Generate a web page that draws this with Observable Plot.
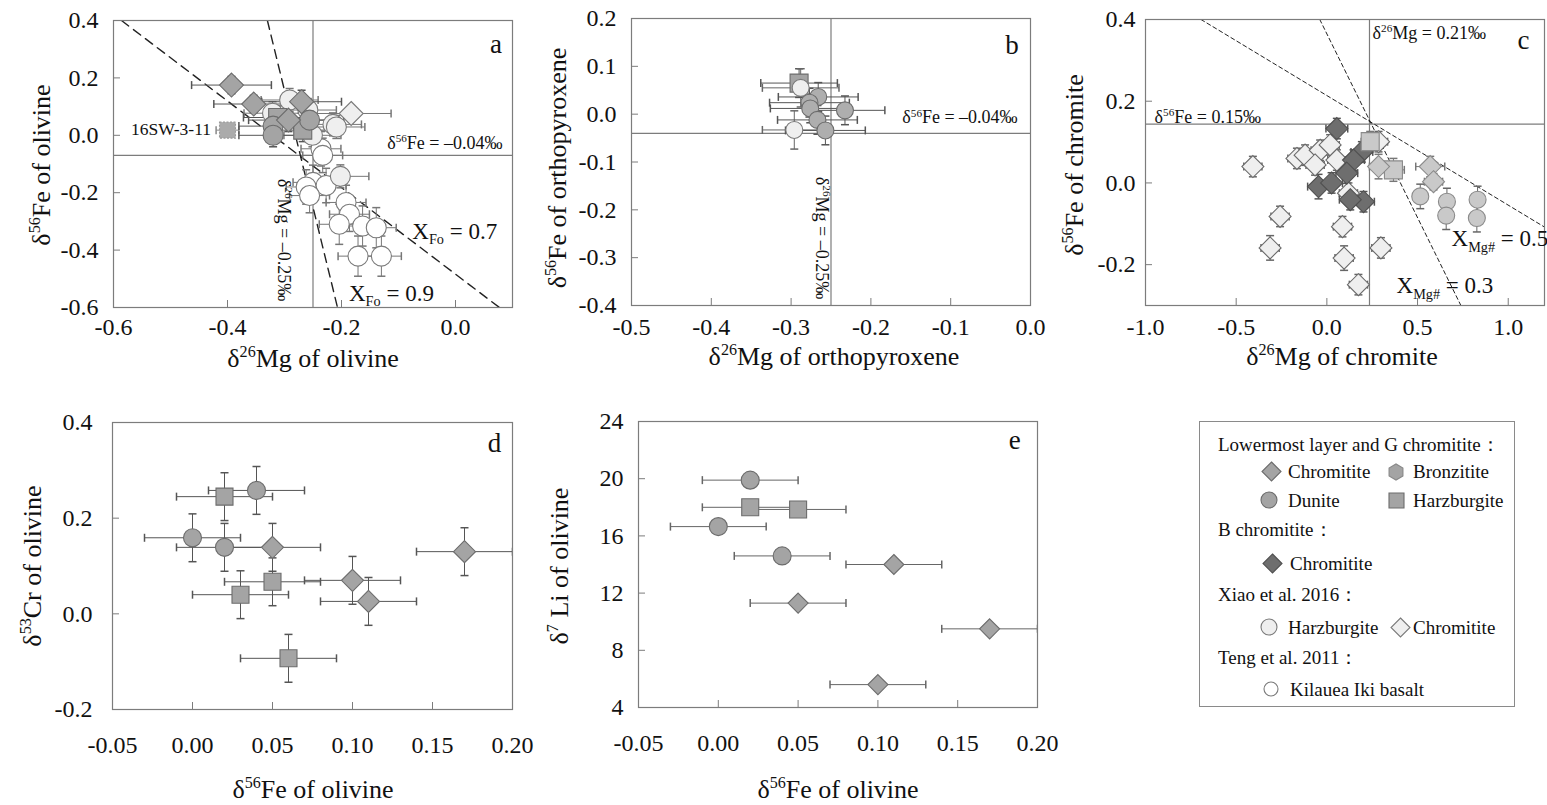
<!DOCTYPE html>
<html><head><meta charset="utf-8">
<script src="https://cdn.jsdelivr.net/npm/d3@7"></script>
<script src="https://cdn.jsdelivr.net/npm/@observablehq/plot@0.6"></script>
<style>
body{margin:0;background:#fff;}
#root{position:relative;width:1547px;height:805px;overflow:hidden;font-family:"Liberation Serif","Times New Roman",serif;color:#111;background:#fff;}
.t{position:absolute;white-space:nowrap;line-height:1;}
.t sup{font-size:0.62em;position:relative;top:-0.6em;vertical-align:baseline;line-height:0;}
.t sub{font-size:0.62em;position:relative;top:0.38em;vertical-align:baseline;line-height:0;}
#legend{position:absolute;left:1199px;top:421px;width:316px;height:286px;border:1px solid #8a8a8a;box-sizing:border-box;}
</style></head>
<body><div id="root"><div id="legend"></div></div>
<script>
// ---------------- DATA: [x, y, xErr, yErr] ----------------
// Panel a: δ26Mg vs δ56Fe of olivine
const aLowChromitite = [[-0.393,0.175,0.07,0.03],[-0.354,0.109,0.07,0.03],[-0.270,0.117,0.07,0.04],[-0.293,0.053,0.07,0.04]];
const aLowDunite = [[-0.256,0.053,0.06,0.04],[-0.320,0.032,0.06,0.04],[-0.320,0.000,0.06,0.04]];
const aLowHarzburgite = [[-0.312,0.062,0.06,0.04],[-0.268,0.018,0.06,0.04]];
const aSample16SW = [[-0.400,0.018,0.02,0]];
const aXiaoHarzburgite = [[-0.291,0.123,0.05,0.04],[-0.259,0.088,0.05,0.04],[-0.321,0.077,0.05,0.04],[-0.215,0.038,0.05,0.04],[-0.209,0.029,0.05,0.04],[-0.251,0.000,0.05,0.04],[-0.202,-0.143,0.05,0.04]];
const aXiaoChromitite = [[-0.183,0.076,0.07,0.02]];
const aKilauea = [[-0.236,-0.047,0.035,0.06],[-0.233,-0.070,0.035,0.06],[-0.250,-0.164,0.035,0.06],[-0.262,-0.180,0.035,0.06],[-0.227,-0.175,0.035,0.06],[-0.256,-0.210,0.035,0.06],[-0.192,-0.234,0.035,0.06],[-0.186,-0.275,0.035,0.06],[-0.204,-0.310,0.035,0.07],[-0.163,-0.316,0.035,0.07],[-0.139,-0.322,0.035,0.07],[-0.171,-0.421,0.035,0.07],[-0.130,-0.421,0.035,0.07]];
const aXFo07 = [[-0.586,0.4],[0.077,-0.6]];
const aXFo09 = [[-0.330,0.4],[-0.207,-0.6]];
const aRefMg = -0.25, aRefFe = -0.07;

// Panel b: orthopyroxene
const bLowHarzburgite = [[-0.290,0.065,0.048,0.03]];
const bXiaoHarzburgite = [[-0.288,0.055,0.048,0.04],[-0.296,-0.033,0.040,0.04]];
const bLowDunite = [[-0.266,0.036,0.05,0.03],[-0.277,0.024,0.05,0.03],[-0.276,0.012,0.05,0.03],[-0.2325,0.008,0.05,0.03],[-0.267,-0.012,0.05,0.03],[-0.257,-0.034,0.05,0.03]];
const bRefMg = -0.25, bRefFe = -0.04;

// Panel c: chromite
const cXiaoChromitite = [[-0.408,0.040,0.05,0.025],[-0.258,-0.082,0.05,0.025],[-0.313,-0.159,0.05,0.03],[-0.165,0.060,0.05,0.025],[-0.120,0.068,0.05,0.025],[-0.037,0.080,0.05,0.025],[-0.065,0.044,0.05,0.025],[0.018,0.093,0.05,0.025],[0.055,0.056,0.05,0.025],[0.119,-0.025,0.05,0.025],[0.086,-0.107,0.05,0.025],[0.095,-0.184,0.05,0.03],[0.174,-0.249,0.05,0.025],[0.298,-0.159,0.05,0.025],[0.285,0.101,0.05,0.025]];
const cBChromitite = [[0.055,0.133,0.06,0.025],[0.193,0.076,0.06,0.025],[0.147,0.056,0.06,0.025],[0.110,0.024,0.06,0.025],[-0.046,-0.009,0.06,0.03],[0.026,0.000,0.06,0.025],[0.202,-0.046,0.06,0.025],[0.129,-0.041,0.06,0.025]];
const cLowChromitite = [[0.285,0.040,0.05,0.03],[0.570,0.040,0.08,0.025],[0.588,0.003,0.05,0.02]];
const cLowHarzburgite = [[0.239,0.101,0.05,0.025],[0.367,0.032,0.06,0.028]];
const cLowDunite = [[0.515,-0.033,0,0.03],[0.662,-0.046,0,0.033],[0.658,-0.080,0,0.034],[0.831,-0.041,0,0.033],[0.827,-0.086,0,0.034]];
const cXMg05 = [[-0.694,0.4],[1.2,-0.108]];
const cXMg03 = [[-0.039,0.4],[0.739,-0.3]];
const cRefMg = 0.235, cRefFe = 0.144;

// Panel d: δ56Fe vs δ53Cr of olivine
const dLowChromitite = [[0.05,0.139,0.03,0.05],[0.10,0.070,0.03,0.05],[0.11,0.026,0.03,0.05],[0.17,0.130,0.03,0.05]];
const dLowDunite = [[0.04,0.258,0.03,0.05],[0.00,0.159,0.03,0.05],[0.02,0.139,0.03,0.05]];
const dLowHarzburgite = [[0.02,0.245,0.03,0.05],[0.05,0.067,0.03,0.05],[0.03,0.040,0.03,0.05],[0.06,-0.093,0.03,0.05]];

// Panel e: δ56Fe vs δ7Li of olivine
const eLowChromitite = [[0.11,14.0,0.03,0],[0.05,11.3,0.03,0],[0.17,9.5,0.03,0],[0.10,5.6,0.03,0]];
const eLowDunite = [[0.02,19.9,0.03,0],[0.00,16.65,0.03,0],[0.04,14.6,0.03,0]];
const eLowHarzburgite = [[0.02,18.0,0.03,0],[0.05,17.85,0.03,0]];

// Tick values
const aXTicks = [-0.6,-0.4,-0.2,0.0], aYTicks = [-0.6,-0.4,-0.2,0.0,0.2,0.4];
const bXTicks = [-0.5,-0.4,-0.3,-0.2,-0.1,0.0], bYTicks = [-0.4,-0.3,-0.2,-0.1,0.0,0.1,0.2];
const cXTicks = [-1.0,-0.5,0.0,0.5,1.0], cYTicks = [-0.2,0.0,0.2,0.4];
const dXTicks = [-0.05,0.00,0.05,0.10,0.15,0.20], dYTicks = [-0.2,0.0,0.2,0.4];
const eXTicks = [-0.05,0.00,0.05,0.10,0.15,0.20], eYTicks = [4,8,12,16,20,24];

// ---------------- SYMBOLS ----------------
const rad = s => Math.sqrt(s / Math.PI);
const diamond = {draw(c, s){const r = rad(s); c.moveTo(0,-r); c.lineTo(r,0); c.lineTo(0,r); c.lineTo(-r,0); c.closePath();}};
const square = {draw(c, s){const r = rad(s); c.moveTo(-r,-r); c.lineTo(r,-r); c.lineTo(r,r); c.lineTo(-r,r); c.closePath();}};
const circle = {draw(c, s){const r = rad(s); c.moveTo(r,0); c.arc(0,0,r,0,2*Math.PI); c.closePath();}};
const capV = {draw(c, s){const r = rad(s); c.moveTo(0,-r); c.lineTo(0,r);}};
const capH = {draw(c, s){const r = rad(s); c.moveTo(-r,0); c.lineTo(r,0);}};

const GRAY = "#a4a4a4", GRAYS = "#6c6c6c", LIGHTG = "#c9c9c9", LIGHTGS = "#8a8a8a";
const DARK = "#6e6e6e", DARKS = "#505050", PALE = "#efefef", PALES = "#7a7a7a";
const FRAME = "#7c7c7c";
const TICKFONT = 24;

const root = document.getElementById("root");
function addText(x, y, html, o = {}) {
  const el = document.createElement("div");
  el.className = "t";
  el.style.left = x + "px"; el.style.top = y + "px";
  el.style.fontSize = (o.size || 16) + "px";
  el.innerHTML = html;
  const ax = o.ax || 0;
  el.style.transform = o.rot ? `translate(-50%,-50%) rotate(${o.rot}deg)` : `translate(${-ax*100}%,-50%)`;
  root.appendChild(el);
  return el;
}

const f1 = d => d.toFixed(1), f2 = d => d.toFixed(2), f0 = d => String(d);

function buildPanel(cfg) {
  const ml = 80, mr = 6, mt = 6, mb = 50;
  const marks = [];
  (cfg.refX || []).forEach(v => marks.push(Plot.ruleX([v], {stroke: FRAME, strokeWidth: 1.2})));
  (cfg.refY || []).forEach(v => marks.push(Plot.ruleY([v], {stroke: FRAME, strokeWidth: 1.2})));
  (cfg.dashed || []).forEach(d => marks.push(Plot.line(d.pts, {x: p => p[0], y: p => p[1], stroke: "#222", strokeWidth: d.w, strokeDasharray: d.dash, clip: true})));
  const rows = cfg.groups.map(g => g.data.map(([x, y, xe, ye]) => ({x, y, xe, ye})));
  cfg.groups.forEach((g, i) => {
    const pts = rows[i], ec = g.err || "#555";
    const ex = pts.filter(p => p.xe > 0), ey = pts.filter(p => p.ye > 0);
    marks.push(Plot.link(ex, {x1: p => p.x - p.xe, x2: p => p.x + p.xe, y1: "y", y2: "y", stroke: ec, strokeWidth: 1, clip: true}));
    marks.push(Plot.dot(ex.flatMap(p => [[p.x - p.xe, p.y], [p.x + p.xe, p.y]]), {x: p => p[0], y: p => p[1], symbol: capV, r: 4, fill: "none", stroke: ec, clip: true}));
    marks.push(Plot.link(ey, {x1: "x", x2: "x", y1: p => p.y - p.ye, y2: p => p.y + p.ye, stroke: ec, strokeWidth: 1, clip: true}));
    marks.push(Plot.dot(ey.flatMap(p => [[p.x, p.y - p.ye], [p.x, p.y + p.ye]]), {x: p => p[0], y: p => p[1], symbol: capH, r: 4, fill: "none", stroke: ec, clip: true}));
  });
  cfg.groups.forEach((g, i) => marks.push(Plot.dot(rows[i], {x: "x", y: "y", symbol: g.sym, r: g.r, fill: g.fill, stroke: g.stroke, strokeWidth: 1.1, strokeDasharray: g.dash || null})));
  marks.push(Plot.frame({stroke: FRAME, strokeWidth: 1.2}));
  marks.push(Plot.axisX({ticks: cfg.xTicks, tickSize: 0, tickPadding: cfg.xPad, tickFormat: cfg.xFmt, label: null, fontSize: TICKFONT}));
  marks.push(Plot.axisX({ticks: cfg.xTicks, tickSize: 7, dy: -7, tickFormat: () => "", label: null, stroke: FRAME}));
  marks.push(Plot.axisY({ticks: cfg.yTicks, tickSize: 0, tickPadding: cfg.yPad, tickFormat: cfg.yFmt, label: null, fontSize: TICKFONT}));
  marks.push(Plot.axisY({ticks: cfg.yTicks, tickSize: 7, dx: 7, tickFormat: () => "", label: null, stroke: FRAME}));
  const chart = Plot.plot({
    width: ml + cfg.fw + mr, height: mt + cfg.fh + mb,
    marginLeft: ml, marginRight: mr, marginTop: mt, marginBottom: mb,
    x: {domain: cfg.xDomain}, y: {domain: cfg.yDomain},
    style: {fontFamily: '"Liberation Serif","Times New Roman",serif', fontSize: TICKFONT + "px", color: "#111", background: "transparent", overflow: "visible"},
    marks
  });
  const left = cfg.fl - ml, top = cfg.ft - mt;
  chart.style.position = "absolute";
  chart.style.left = left + "px";
  chart.style.top = top + "px";
  root.appendChild(chart);
  const sx = chart.scale("x"), sy = chart.scale("y");
  (cfg.notes || []).forEach(n => addText(left + sx.apply(n.x), top + sy.apply(n.y), n.html, n));
  return chart;
}

const dashA = "9,6", dashC = "4,3";
const NS = 18, XS = 23;

// Panel a
buildPanel({
  fl: 113, ft: 20, fw: 399, fh: 287, xDomain: [-0.6, 0.1], yDomain: [-0.6, 0.4],
  xTicks: aXTicks, yTicks: aYTicks, xFmt: f1, yFmt: f1, xPad: 10, yPad: 15,
  refX: [aRefMg], refY: [aRefFe],
  dashed: [{pts: aXFo07, w: 1.4, dash: dashA}, {pts: aXFo09, w: 1.4, dash: dashA}],
  groups: [
    {data: aKilauea, sym: circle, r: 10, fill: "#ffffff", stroke: PALES, err: "#777"},
    {data: aXiaoHarzburgite, sym: circle, r: 10, fill: PALE, stroke: PALES, err: "#777"},
    {data: aXiaoChromitite, sym: diamond, r: 12, fill: PALE, stroke: PALES, err: "#777"},
    {data: aSample16SW, sym: square, r: 8, fill: "#ababab", stroke: "#9a9a9a", dash: "2,1.5", err: "#888"},
    {data: aLowHarzburgite, sym: square, r: 9, fill: GRAY, stroke: GRAYS},
    {data: aLowDunite, sym: circle, r: 10, fill: GRAY, stroke: GRAYS},
    {data: aLowChromitite, sym: diamond, r: 12, fill: GRAY, stroke: GRAYS}
  ],
  notes: [
    {x: -0.428, y: 0.018, html: "16SW-3-11", size: 17.5, ax: 1},
    {x: -0.119, y: -0.028, html: "δ<sup>56</sup>Fe = –0.04‰", size: NS},
    {x: -0.300, y: -0.368, html: "δ<sup>26</sup>Mg = –0.25‰", size: NS, rot: 90},
    {x: -0.075, y: -0.335, html: "X<sub>Fo</sub> = 0.7", size: XS},
    {x: -0.186, y: -0.550, html: "X<sub>Fo</sub> = 0.9", size: XS},
    {x: 0.072, y: 0.316, html: "a", size: 27, ax: 0.5}
  ]
});

// Panel b
buildPanel({
  fl: 631, ft: 18, fw: 399, fh: 287, xDomain: [-0.5, 0.0], yDomain: [-0.4, 0.2],
  xTicks: bXTicks, yTicks: bYTicks, xFmt: f1, yFmt: f1, xPad: 12, yPad: 15,
  refX: [bRefMg], refY: [bRefFe],
  groups: [
    {data: bLowHarzburgite, sym: square, r: 9, fill: GRAY, stroke: GRAYS},
    {data: bXiaoHarzburgite, sym: circle, r: 8.5, fill: PALE, stroke: PALES, err: "#666"},
    {data: bLowDunite, sym: circle, r: 8.5, fill: "#aeaeae", stroke: GRAYS}
  ],
  notes: [
    {x: -0.160, y: -0.008, html: "δ<sup>56</sup>Fe = –0.04‰", size: NS},
    {x: -0.261, y: -0.260, html: "δ<sup>26</sup>Mg = –0.25‰", size: NS, rot: 90},
    {x: -0.0225, y: 0.144, html: "b", size: 27, ax: 0.5}
  ]
});

// Panel c
buildPanel({
  fl: 1145, ft: 19, fw: 399, fh: 286, xDomain: [-1.0, 1.2], yDomain: [-0.3, 0.4],
  xTicks: cXTicks, yTicks: cYTicks, xFmt: f1, yFmt: f1, xPad: 12, yPad: 10,
  refX: [cRefMg], refY: [cRefFe],
  dashed: [{pts: cXMg05, w: 1, dash: dashC}, {pts: cXMg03, w: 1, dash: dashC}],
  groups: [
    {data: cXiaoChromitite, sym: diamond, r: 11, fill: PALE, stroke: "#6a6a6a", err: "#666"},
    {data: cBChromitite, sym: diamond, r: 11, fill: DARK, stroke: DARKS},
    {data: cLowHarzburgite, sym: square, r: 9, fill: LIGHTG, stroke: LIGHTGS, err: "#777"},
    {data: cLowChromitite, sym: diamond, r: 11, fill: LIGHTG, stroke: LIGHTGS, err: "#777"},
    {data: cLowDunite, sym: circle, r: 8.5, fill: LIGHTG, stroke: LIGHTGS, err: "#666"}
  ],
  notes: [
    {x: 0.255, y: 0.366, html: "δ<sup>26</sup>Mg = 0.21‰", size: NS},
    {x: -0.947, y: 0.161, html: "δ<sup>56</sup>Fe = 0.15‰", size: NS},
    {x: 0.690, y: -0.137, html: "X<sub>Mg#</sub> = 0.5", size: XS},
    {x: 0.387, y: -0.252, html: "X<sub>Mg#</sub> = 0.3", size: XS},
    {x: 1.087, y: 0.349, html: "c", size: 27, ax: 0.5}
  ]
});

// Panel d
buildPanel({
  fl: 112, ft: 422, fw: 400, fh: 287, xDomain: [-0.05, 0.20], yDomain: [-0.2, 0.4],
  xTicks: dXTicks, yTicks: dYTicks, xFmt: f2, yFmt: f1, xPad: 26, yPad: 20,
  groups: [
    {data: dLowHarzburgite, sym: square, r: 8.5, fill: GRAY, stroke: GRAYS},
    {data: dLowDunite, sym: circle, r: 9, fill: GRAY, stroke: GRAYS},
    {data: dLowChromitite, sym: diamond, r: 11, fill: GRAY, stroke: GRAYS}
  ],
  notes: [{x: 0.189, y: 0.356, html: "d", size: 27, ax: 0.5}]
});

// Panel e
buildPanel({
  fl: 638, ft: 421, fw: 399, fh: 286, xDomain: [-0.05, 0.20], yDomain: [4, 24],
  xTicks: eXTicks, yTicks: eYTicks, xFmt: f2, yFmt: f0, xPad: 26, yPad: 15,
  groups: [
    {data: eLowHarzburgite, sym: square, r: 8.5, fill: GRAY, stroke: GRAYS, err: "#666"},
    {data: eLowDunite, sym: circle, r: 9, fill: GRAY, stroke: GRAYS, err: "#666"},
    {data: eLowChromitite, sym: diamond, r: 10, fill: GRAY, stroke: GRAYS, err: "#666"}
  ],
  notes: [{x: 0.186, y: 22.7, html: "e", size: 27, ax: 0.5}]
});

// Axis titles
const AX = 26;
addText(313, 359, "δ<sup>26</sup>Mg of olivine", {size: AX, ax: 0.5});
addText(42, 165, "δ<sup>56</sup>Fe of olivine", {size: AX, rot: -90});
addText(834, 357, "δ<sup>26</sup>Mg of orthopyroxene", {size: AX, ax: 0.5});
addText(558, 168, "δ<sup>56</sup>Fe of orthopyroxene", {size: AX, rot: -90});
addText(1342, 357, "δ<sup>26</sup>Mg of chromite", {size: AX, ax: 0.5});
addText(1075, 165, "δ<sup>56</sup>Fe of chromite", {size: AX, rot: -90});
addText(313, 790, "δ<sup>56</sup>Fe of olivine", {size: AX, ax: 0.5});
addText(33, 566, "δ<sup>53</sup>Cr of olivine", {size: AX, rot: -90});
addText(838, 790, "δ<sup>56</sup>Fe of olivine", {size: AX, ax: 0.5});
addText(560, 566, "δ<sup>7</sup> Li of olivine", {size: AX, rot: -90});

// Legend
function symSvg(cx, cy, kind, r, fill, stroke) {
  const s = document.createElementNS("http://www.w3.org/2000/svg", "svg");
  const w = 2 * r + 4;
  s.setAttribute("width", w); s.setAttribute("height", w);
  s.style.position = "absolute"; s.style.left = (cx - w / 2) + "px"; s.style.top = (cy - w / 2) + "px";
  const c = w / 2;
  let el;
  if (kind === "circle") {
    el = document.createElementNS(s.namespaceURI, "circle");
    el.setAttribute("cx", c); el.setAttribute("cy", c); el.setAttribute("r", r);
  } else {
    let pts;
    if (kind === "diamond") pts = [[0,-r],[r,0],[0,r],[-r,0]];
    else if (kind === "square") pts = [[-r,-r],[r,-r],[r,r],[-r,r]];
    else pts = d3.range(6).map(i => [r * Math.cos(Math.PI/6 + i*Math.PI/3), r * Math.sin(Math.PI/6 + i*Math.PI/3)]);
    el = document.createElementNS(s.namespaceURI, "polygon");
    el.setAttribute("points", pts.map(p => (c + p[0]) + "," + (c + p[1])).join(" "));
  }
  el.setAttribute("fill", fill); el.setAttribute("stroke", stroke); el.setAttribute("stroke-width", 1.1);
  s.appendChild(el);
  root.appendChild(s);
}
const LS = 19;
addText(1218, 444, "Lowermost layer and G chromitite：", {size: LS});
symSvg(1271, 471, "diamond", 9.5, GRAY, GRAYS); addText(1288, 471, "Chromitite", {size: LS});
symSvg(1396, 472, "hex", 8, GRAY, "#888"); addText(1413, 471, "Bronzitite", {size: LS});
symSvg(1269, 500, "circle", 8, GRAY, GRAYS); addText(1288, 500, "Dunite", {size: LS});
symSvg(1396, 500, "square", 7.5, GRAY, GRAYS); addText(1413, 500, "Harzburgite", {size: LS});
addText(1218, 529, "B chromitite：", {size: LS});
symSvg(1272, 563, "diamond", 9.5, DARK, DARKS); addText(1290, 563, "Chromitite", {size: LS});
addText(1218, 594, "Xiao et al. 2016：", {size: LS});
symSvg(1269, 627, "circle", 8, PALE, PALES); addText(1288, 627, "Harzburgite", {size: LS});
symSvg(1400, 627, "diamond", 9.5, PALE, PALES); addText(1413, 627, "Chromitite", {size: LS});
addText(1218, 657, "Teng et al. 2011：", {size: LS});
symSvg(1271, 689, "circle", 7, "#ffffff", PALES); addText(1290, 689, "Kilauea Iki basalt", {size: LS});
</script>
</body></html>
